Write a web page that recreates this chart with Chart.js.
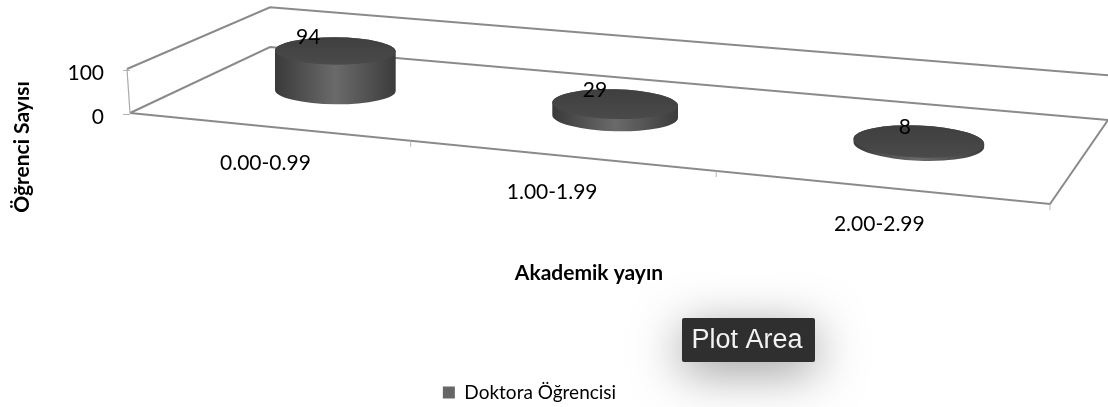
<!DOCTYPE html>
<html>
<head>
<meta charset="utf-8">
<script src="https://cdn.jsdelivr.net/npm/chart.js@4"></script>
<style>
html, body { margin: 0; padding: 0; background: #fff; overflow: hidden; }
canvas { display: block; filter: blur(0.5px); }
</style>
</head>
<body>
<canvas id="chart" width="1108" height="407"></canvas>
<script>
const categories = ['0.00-0.99', '1.00-1.99', '2.00-2.99'];
const students = [94, 29, 8];
const seriesName = 'Doktora Öğrencisi';
const xTitle = 'Akademik yayın';
const yTitle = 'Öğrenci Sayısı';

const FONT = 'Lato, sans-serif';
const LINE = '#8a8a8a';

// the floor of the 3d box: front left, front right, back right, back left
const floor = [[130, 113], [1050, 204], [1108, 120], [270, 47]];

// unit square -> floor (perspective)
function makeProjection(q) {
    const [x0, y0] = q[0], [x1, y1] = q[1], [x2, y2] = q[2], [x3, y3] = q[3];
    const dx1 = x1 - x2, dx2 = x3 - x2, sx = x0 - x1 + x2 - x3;
    const dy1 = y1 - y2, dy2 = y3 - y2, sy = y0 - y1 + y2 - y3;
    const det = dx1 * dy2 - dx2 * dy1;
    const g = (sx * dy2 - dx2 * sy) / det;
    const h = (dx1 * sy - sx * dy1) / det;
    const a = x1 - x0 + g * x1, b = x3 - x0 + h * x3;
    const d = y1 - y0 + g * y1, e = y3 - y0 + h * y3;
    return (u, v) => {
        const w = g * u + h * v + 1;
        return { x: (a * u + b * v + x0) / w, y: (d * u + e * v + y0) / w, w: w };
    };
}
const project = makeProjection(floor);

function line(ctx, points) {
    ctx.beginPath();
    points.forEach((p, i) => i ? ctx.lineTo(p.x, p.y) : ctx.moveTo(p.x, p.y));
    ctx.stroke();
}

function drawBox(chart) {
    const ctx = chart.ctx, area = chart.chartArea;
    const wallTop = (u, v) => {
        const p = project(u, v);
        return { x: p.x - 3 * (1 - v), y: p.y - area.height / p.w };
    };
    ctx.save();
    ctx.strokeStyle = LINE;
    ctx.lineWidth = 2;
    line(ctx, [project(0, 0), project(1, 0), project(1, 1), project(0, 1), project(0, 0)]);
    line(ctx, [wallTop(0, 0), wallTop(0, 1), wallTop(1, 1)]);
    ctx.strokeStyle = '#aaaaaa';
    ctx.lineWidth = 1.2;
    line(ctx, [project(0, 0), wallTop(0, 0)]);
    ctx.strokeStyle = '#b5b5b5';
    ctx.lineWidth = 1;
    categories.forEach((c, i) => {
        const p = project((i + 1) / categories.length, 0);
        line(ctx, [p, { x: p.x, y: p.y + 6 }]);
    });
    ctx.restore();
}

function drawCylinder(chart, bar) {
    const ctx = chart.ctx, area = chart.chartArea;
    const u = (bar.x - area.left) / area.width;
    const c = project(u, 0.5);
    const rx = bar.width / 2 * (0.94 + 0.12 * u);
    const ry = (project(u, 0.3).y - project(u, 0.7).y) / 2;
    const h = (bar.base - bar.y) / c.w;
    const top = c.y - h;
    const rot = 0.05 * u;

    const side = ctx.createLinearGradient(c.x - rx, 0, c.x + rx, 0);
    side.addColorStop(0, '#3a3a3a');
    side.addColorStop(0.5, '#6a6a6a');
    side.addColorStop(1, '#3c3c3c');
    ctx.beginPath();
    ctx.ellipse(c.x, c.y, rx, ry, rot, 0, Math.PI);
    ctx.ellipse(c.x, top, rx, ry, rot, Math.PI, Math.PI * 2);
    ctx.closePath();
    ctx.fillStyle = side;
    ctx.fill();

    const cap = ctx.createLinearGradient(0, top - ry, 0, top + ry);
    cap.addColorStop(0, '#3f3f3f');
    cap.addColorStop(1, '#4a4a4a');
    ctx.beginPath();
    ctx.ellipse(c.x, top, rx, ry, rot, 0, Math.PI * 2);
    ctx.fillStyle = cap;
    ctx.fill();
    return { x: c.x, y: top };
}

const box3d = {
    id: 'box3d',
    afterLayout(chart) {
        // put the legend where it sits in the picture
        const lg = chart.legend;
        lg.left = 335;
        lg.right = 724;
        lg.top = 373;
        lg.bottom = 408;
    },
    beforeDatasetDraw(chart, args) {
        const ctx = chart.ctx, area = chart.chartArea;
        drawBox(chart);
        const tops = chart.getDatasetMeta(args.index).data.map(bar => drawCylinder(chart, bar));

        ctx.save();
        ctx.fillStyle = '#000';
        ctx.textBaseline = 'middle';
        ctx.font = '21px ' + FONT;
        ctx.textAlign = 'right';
        const valueNudge = [-7, 0, 0];
        tops.forEach((t, i) => ctx.fillText(students[i], t.x - 8 + valueNudge[i], t.y - 14));

        // category labels follow the front edge of the floor
        const nudge = [-2, -8, 0];
        ctx.textAlign = 'center';
        categories.forEach((c, i) => {
            const u = (chart.scales.x.getPixelForValue(i) - area.left) / area.width;
            const p = project(u, 0);
            ctx.fillText(c, p.x + nudge[i], p.y + 37);
        });

        ctx.font = 'bold 21px ' + FONT;
        ctx.fillText(xTitle, 589, 273);
        ctx.translate(22, 147);
        ctx.rotate(-Math.PI / 2);
        ctx.fillText(yTitle, 0, 0);
        ctx.restore();
        return false;
    },
    afterDraw(chart) {
        // hover tag that was caught in the screenshot
        const ctx = chart.ctx;
        ctx.save();
        ctx.shadowColor = 'rgba(0,0,0,0.4)';
        ctx.shadowBlur = 48;
        ctx.shadowOffsetY = 10;
        ctx.fillStyle = '#2f2f2f';
        ctx.beginPath();
        ctx.roundRect(682, 318, 133, 44, 2);
        ctx.fill();
        ctx.restore();
        ctx.save();
        ctx.fillStyle = '#f2f2f2';
        ctx.font = '27px "Liberation Sans", sans-serif';
        ctx.textAlign = 'center';
        ctx.textBaseline = 'middle';
        ctx.fillText('Plot Area', 747, 341);
        ctx.restore();
    }
};

new Chart(document.getElementById('chart'), {
    type: 'bar',
    data: {
        labels: categories,
        datasets: [{
            label: seriesName,
            data: students,
            backgroundColor: '#666666',
            categoryPercentage: 1,
            barPercentage: 0.41
        }]
    },
    options: {
        responsive: false,
        animation: false,
        layout: { padding: { top: 70, right: 58, bottom: 254, left: 0 } },
        scales: {
            x: { display: false },
            y: {
                min: 0,
                max: 100,
                afterFit: s => { s.width = 130; },
                border: { display: false },
                grid: { drawOnChartArea: false, color: '#b5b5b5', tickLength: 7 },
                ticks: {
                    stepSize: 100,
                    padding: 19,
                    labelOffset: 3,
                    color: '#000',
                    font: { family: FONT, size: 21 }
                }
            }
        },
        plugins: {
            tooltip: { enabled: false },
            legend: {
                position: 'bottom',
                labels: {
                    boxWidth: 12,
                    boxHeight: 12,
                    padding: 10,
                    color: '#000',
                    font: { family: FONT, size: 19 }
                }
            }
        }
    },
    plugins: [box3d]
});
</script>
</body>
</html>
